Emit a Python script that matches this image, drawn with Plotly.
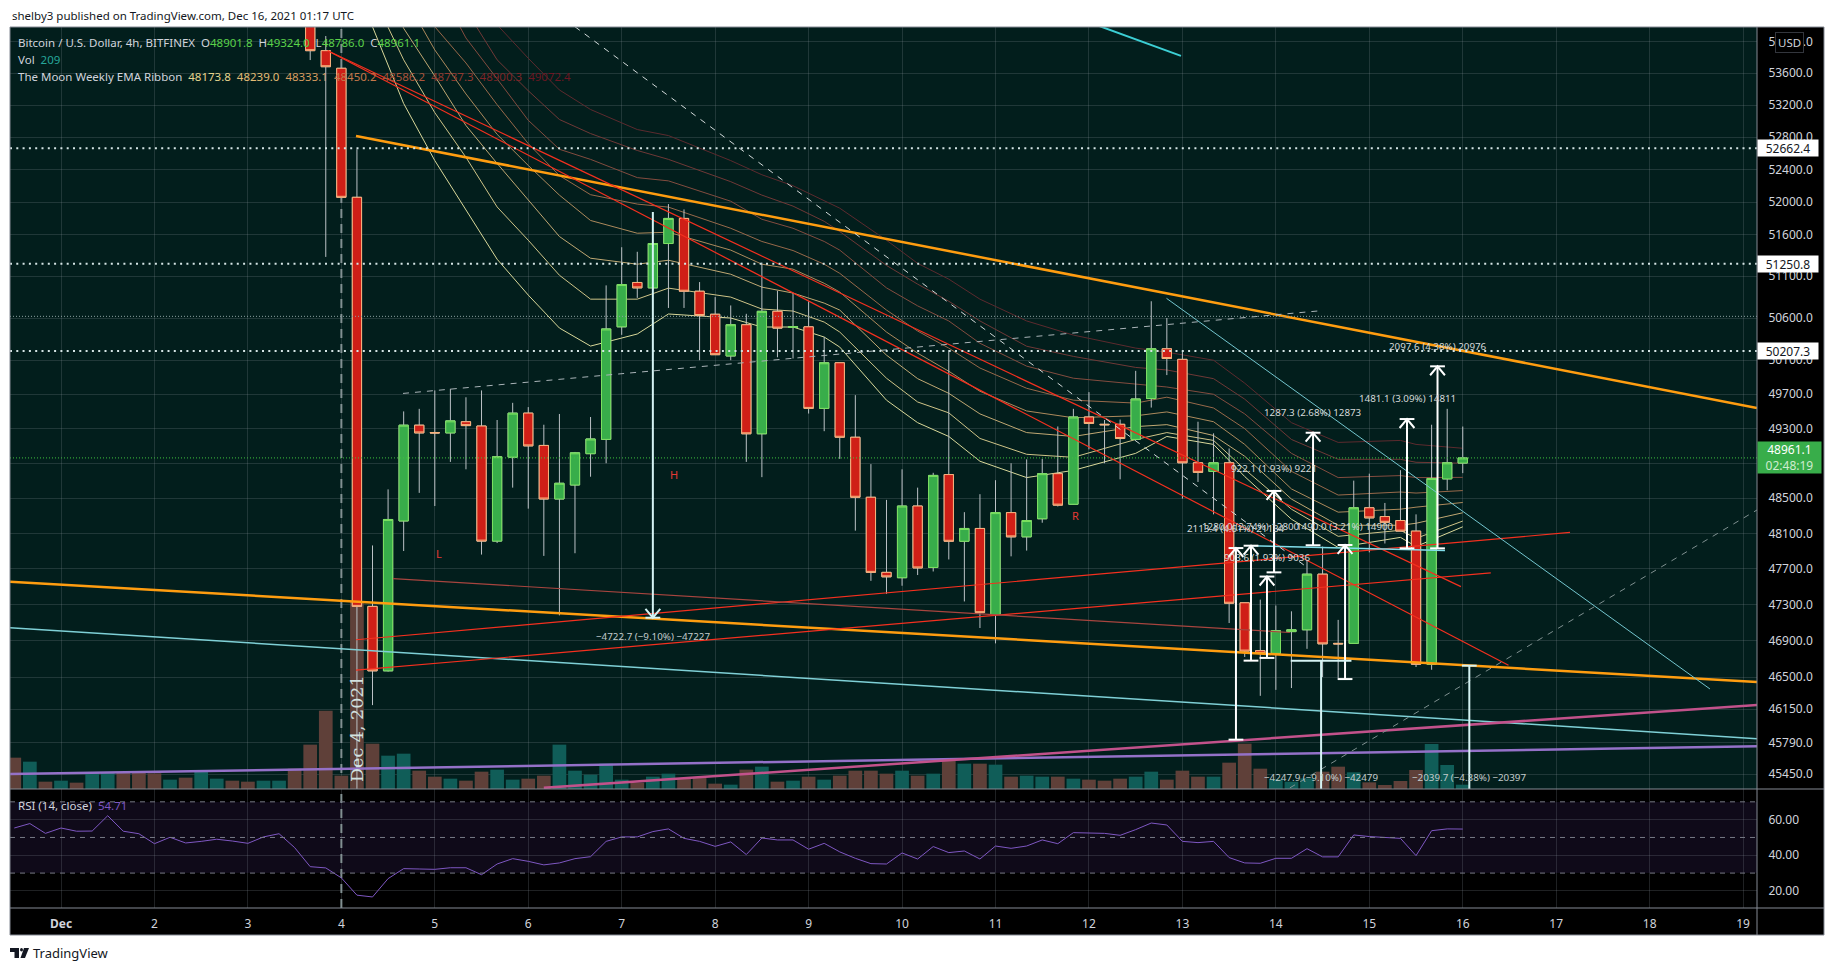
import numpy as np
import pandas as pd
import plotly.graph_objects as go

#######################
### Chart Variables ###
#######################

WIDTH = 1834
HEIGHT = 971
LEFT, RIGHT, TOP, BOTTOM = 10, 1757, 27, 908
PANE_SPLIT = 789
FONT = "Noto Sans"
TEXT_COLOUR = "#d1d4dc"
MAIN_BG = "#021e1c"
GRID_COLOUR = "rgba(140,150,160,0.22)"
BORDER_COLOUR = "#858a94"
RED_FILL, RED_EDGE = "#cf1f17", "#f9b27c"
GREEN_FILL, GREEN_EDGE = "#38ad4a", "#7be05f"
WICK_COLOUR = "#bcc2c6"
VOL_UP, VOL_DOWN = "#105d58", "#5f4039"
MEASURE_WHITE, MEASURE_PALE = "#ffffff", "#d5f3f3"
GAP = "\u00a0\u00a0"

PRICE_RANGE = [np.log10(45291), np.log10(54187)]
X_RANGE = ["2021-11-30 10:54", "2021-12-19 03:34"]

############
### Data ###
############

price_ticks = [54000, 53600, 53200, 52800, 52400, 52000, 51600, 51100, 50600, 50100, 49700,
               49300, 48900, 48500, 48100, 47700, 47300, 46900, 46500, 46150, 45790, 45450]
rsi_ticks = [60, 40, 20]
day_ticks = ["2021-12-%02d" % d for d in range(1, 20)]
day_labels = ["<b>Dec</b>"] + [str(d) for d in range(2, 20)]

candle_times = pd.date_range("2021-12-03 16:00", periods=75, freq="4h")
opens = [54900, 53886, 53663, 52058, 47280, 46568, 48240, 49340, 49255, 49250, 49380, 49330, 48012, 48970, 49480,
         49105, 48490, 48650, 49010, 49175, 50495, 51025, 50960, 51495, 51800, 50920, 50645, 50150, 50520, 49240,
         50680, 50490, 50495, 49535, 50070, 49200, 48510, 47660, 47600, 48410, 47715, 48770, 48010, 48155, 47190,
         48335, 48060, 48265, 48780, 48430, 49435, 49350, 49350, 49175, 49650, 50235, 50110, 48905, 48805, 48905,
         47320, 46790, 46760, 47000, 47020, 47640, 46870, 46870, 48390, 48290, 48245, 48125, 46640, 48720, 48901.8]
highs = [55100, 54072, 53663, 52650, 47963, 48600, 49500, 49530, 49745, 49765, 49665, 49745, 49400, 49600, 49550,
         49345, 49470, 49030, 49435, 50990, 51450, 51395, 51500, 51975, 51910, 51030, 50850, 50750, 50650, 51265,
         50925, 50900, 50800, 50375, 50070, 49690, 48890, 48480, 48830, 48620, 48790, 50220, 48340, 48545, 48705,
         48900, 48945, 48950, 49325, 49530, 49725, 49400, 49405, 49975, 50800, 50600, 50210, 49380, 49245, 49070,
         47320, 47355, 47290, 47225, 47790, 47950, 47130, 48700, 48780, 48445, 48820, 48315, 49345, 49530, 49324]
lows = [53767, 51333, 52058, 42300, 46194, 46560, 47900, 48560, 48410, 48915, 48830, 47860, 47990, 48620, 48380,
        47845, 47180, 47875, 48745, 48900, 50400, 50840, 50940, 50720, 50720, 50100, 50165, 50100, 48915, 48740,
        50135, 50120, 49475, 49270, 48950, 48130, 47565, 47420, 47510, 47630, 47670, 47805, 47335, 47040, 46870,
        47840, 47905, 48220, 48405, 48425, 49060, 48900, 48715, 49170, 49545, 49925, 48495, 48685, 48315, 47095,
        46720, 46295, 46360, 46380, 46810, 46500, 46490, 46865, 47885, 47985, 48125, 46610, 46580, 48590, 48786]
closes = [53886, 53683, 52058, 47280, 46568, 48257, 49340, 49250, 49250, 49390, 49335, 48012, 48975, 49480, 49100,
          48490, 48670, 49020, 49180, 50470, 51000, 50960, 51495, 51800, 50920, 50630, 50165, 50520, 49240, 50680,
          50480, 50495, 49535, 50070, 49200, 48510, 47660, 47610, 48410, 47710, 48760, 48010, 48155, 47210, 48335,
          48060, 48245, 48780, 48420, 49435, 49360, 49345, 49185, 49645, 50235, 50120, 48905, 48795, 48905, 47315,
          46785, 46760, 47010, 47020, 47640, 46865, 46865, 48390, 48275, 48225, 48125, 46640, 48725, 48905, 48961.1]

bar_times = pd.date_range("2021-11-30 12:00", periods=94, freq="4h")
volumes = [1523, 1328, 356, 405, 308, 794, 794, 794, 810, 761, 454, 551, 891, 502, 405, 356, 405, 405, 988, 2155,
           3807, 648, 9088, 2203, 1620, 1717, 891, 599, 502, 405, 842, 940, 454, 502, 648, 2155, 891, 697, 1231, 454,
           308, 599, 745, 502, 551, 259, 211, 940, 1085, 356, 405, 599, 454, 648, 891, 891, 745, 891, 648, 745,
           1426, 1231, 1231, 1183, 599, 648, 599, 599, 502, 454, 405, 502, 599, 842, 454, 891, 599, 599, 1280, 2203,
           988, 470, 356, 518, 842, 1085, 810, 324, 194, 389, 923, 2187, 1166, 209]
volume_up = [0, 1, 0, 1, 0, 1, 1, 0, 0, 0, 1, 0, 1, 1, 0, 0, 1, 1, 0, 0,
             0, 0, 0, 0, 1, 1, 0, 0, 1, 0, 0, 1, 1, 0, 0, 1, 1, 1, 1, 1,
             0, 1, 1, 0, 0, 0, 1, 0, 1, 0, 1, 0, 1, 0, 0, 0, 0, 1, 0, 1,
             0, 1, 0, 1, 0, 1, 1, 0, 1, 0, 0, 0, 1, 1, 0, 0, 0, 1, 0, 0,
             0, 1, 1, 1, 0, 0, 1, 0, 0, 0, 0, 1, 1, 1]
rsi_values = [55.3, 57.8, 52.3, 55.3, 53.5, 53.6, 62.2, 53.5, 52.1, 46.5, 50.1, 46.9, 47.8, 49, 48, 46.7, 50.3, 52.1,
              44.3, 33.6, 32.9, 27.3, 17.6, 16.6, 26.9, 32.5, 32.3, 32.1, 33, 33, 29.1, 35.1, 38.1, 36.6, 34.6, 35.7,
              38.1, 39.2, 47.8, 50.3, 50.3, 53.3, 54.8, 49.5, 47.8, 45, 47.5, 40.4, 49.7, 48.6, 48.6, 43.4, 46.7, 41.9,
              38.3, 35.3, 35.1, 41.3, 37.9, 44.9, 41.5, 42.4, 37.9, 45.2, 43.9, 45.2, 48.6, 46.5, 52.7, 52.5, 52.3,
              51.2, 54.4, 58.1, 57, 47.8, 47.1, 47.8, 38.7, 35.7, 35.5, 38.3, 38.3, 43.7, 39.1, 39.1, 51.4, 50.5, 50.1,
              49.5, 39.8, 53.8, 54.8, 54.71]

ribbon_times = ["2021-12-04 08:00", "2021-12-04 16:00", "2021-12-05 00:00", "2021-12-05 08:00", "2021-12-05 16:00",
                "2021-12-06 00:00", "2021-12-06 08:00", "2021-12-06 16:00", "2021-12-07 04:00", "2021-12-07 12:00",
                "2021-12-08 04:00", "2021-12-08 12:00", "2021-12-08 20:00", "2021-12-09 04:00", "2021-12-09 08:00",
                "2021-12-09 20:00", "2021-12-10 04:00", "2021-12-10 12:00", "2021-12-10 20:00", "2021-12-11 08:00",
                "2021-12-11 20:00", "2021-12-12 12:00", "2021-12-12 20:00", "2021-12-13 08:00", "2021-12-13 16:00",
                "2021-12-14 04:00", "2021-12-14 16:00", "2021-12-15 08:00", "2021-12-15 12:00", "2021-12-16 00:00"]
ema_1 = [54190, 53220, 52510, 51902, 51305, 50874, 50481, 50267, 50410, 50648, 50600, 50493, 50493, 50374, 50255,
         49631, 49369, 49209, 48923, 48735, 48818, 49014, 49209, 49117, 48747, 48260, 47940, 48054, 47951, 48173.8]
ema_2 = [54600, 53770, 53105, 52550, 51940, 51535, 51112, 50825, 50825, 50957, 50850, 50707, 50683, 50552, 50433,
         49888, 49610, 49483, 49186, 49003, 48968, 49174, 49254, 49163, 48830, 48374, 48066, 48134, 48043, 48239.0]
ema_3 = [55044, 54170, 53565, 52945, 52475, 52025, 51580, 51317, 51245, 51293, 51124, 50969, 50898, 50778, 50695,
         50160, 49883, 49711, 49471, 49254, 49209, 49323, 49346, 49220, 48980, 48489, 48191, 48191, 48214, 48333.1]
ema_4 = [55500, 54593, 53895, 53340, 52835, 52450, 52085, 51775, 51620, 51632, 51415, 51245, 51185, 51015, 50910,
         50433, 50183, 49970, 49735, 49505, 49426, 49449, 49494, 49380, 49117, 48605, 48340, 48374, 48397, 48450.2]
ema_5 = [55958, 54915, 54190, 53730, 53205, 52720, 52325, 52090, 51975, 51938, 51680, 51520, 51410, 51245, 51135,
         50695, 50445, 50243, 50008, 49770, 49631, 49597, 49666, 49540, 49300, 48807, 48535, 48570, 48558, 48586.2]
ema_6 = [56488, 55500, 54786, 54047, 53530, 53010, 52650, 52525, 52300, 52260, 52010, 51790, 51680, 51520, 51415,
         50960, 50745, 50565, 50300, 50030, 49888, 49820, 49785, 49700, 49471, 49014, 48735, 48758, 48735, 48737.3]
ema_7 = [57020, 56025, 55304, 54404, 53770, 53380, 53020, 52845, 52635, 52525, 52250, 52085, 51950, 51765, 51640,
         51230, 51005, 50800, 50565, 50265, 50145, 50015, 49985, 49883, 49643, 49174, 48945, 48945, 48911, 48900.3]
ema_8 = [57560, 56620, 55960, 55175, 54215, 53790, 53390, 53145, 52895, 52820, 52510, 52335, 52200, 52015, 51925,
         51535, 51255, 51065, 50825, 50565, 50397, 50243, 50195, 50100, 49830, 49369, 49140, 49163, 49117, 49072.4]
ribbon_values = [ema_1, ema_2, ema_3, ema_4, ema_5, ema_6, ema_7, ema_8]
ribbon_colours = ["#d9d89a", "#cfc488", "#c0a873", "#ad8a5c", "#98694a", "#834c3f", "#6f3836", "#5c2a2e"]
ribbon_legend = ["#e6d58e", "#e3bc75", "#d79c5f", "#c4784a", "#ab543a", "#93392f", "#7d2427", "#6b1622"]

# drawn lines: start and end of each one
trend_t0 = ["2021-12-04 03:46", X_RANGE[0], X_RANGE[0], "2021-12-12 02:04", X_RANGE[0], "2021-12-06 04:00",
            "2021-12-03 20:30", "2021-12-03 20:30", "2021-12-04 03:46", "2021-12-04 03:46", "2021-12-04 13:16",
            "2021-12-12 19:55", "2021-12-13 17:16"]
trend_p0 = [52815, 47556, 47044, 54210, 45450, 45303, 53885, 53885, 46575, 46910, 47590, 50835, 47960]
trend_t1 = [X_RANGE[1], X_RANGE[1], X_RANGE[1], "2021-12-12 23:38", X_RANGE[1], X_RANGE[1], "2021-12-15 23:32",
            "2021-12-16 11:45", "2021-12-16 07:12", "2021-12-17 03:33", "2021-12-14 03:36", "2021-12-18 15:29",
            "2021-12-15 19:26"]
trend_p1 = [49540, 46445, 45831, 53820, 45748, 46194, 47500, 46630, 47655, 48110, 46990, 46370, 47905]
trend_colours = ["#ff9d10", "#ff9d10", "#7fd0d6", "#3ccfd4", "#9471c8", "#c2528b", "#f4301f", "#f4301f", "#f4301f",
                 "#f4301f", "#a8453f", "#74c6cf", "#80deea"]
trend_widths = [2.5, 2.5, 1.5, 2, 2.5, 2.5, 1.2, 1.2, 1.2, 1.2, 1.2, 1, 1.5]

dashed_t0 = ["2021-12-04 15:50", "2021-12-06 12:00", "2021-12-14 03:36"]
dashed_p0 = [49710, 54190, 45303]
dashed_t1 = ["2021-12-14 11:03", "2021-12-14 07:26", X_RANGE[1]]
dashed_p1 = [50685, 47735, 48365]
dashed_colours = ["#aab4b8", "#d3dada", "#7f9090"]

level_prices = [52662.4, 51250.8, 50207.3]
thin_level = 50620
last_price = 48961.1

# price range tools: time, from, to, label, label price
up_times = ["2021-12-13 13:45", "2021-12-13 17:37", "2021-12-13 21:43", "2021-12-13 23:31", "2021-12-14 09:33",
            "2021-12-14 17:46", "2021-12-15 09:41", "2021-12-15 17:31"]
up_from = [45820, 46680, 46710, 47660, 47965, 46478, 47930, 47930]
up_to = [47933.4, 47960, 47613, 48582, 49252, 47968, 49411, 50028]
up_labels = ["2113.4 (4.61%) 21134", "1280.0 (2.74%) 12800", "903.6 (1.93%) 9036", "922.1 (1.93%) 9221",
             "1287.3 (2.68%) 12873", "1490.0 (3.21%) 14900", "1481.1 (3.09%) 14811", "2097.6 (4.38%) 20976"]
up_label_prices = [48155, 48180, 47826, 48843, 49485, 48180, 49655, 50265]

down_times = ["2021-12-07 08:00", "2021-12-14 11:37", "2021-12-16 01:41"]
down_from = [51877, 46680, 46625]
down_to = [47154, 42432, 44585]
down_labels = ["\u22124722.7 (\u22129.10%) \u221247227", "\u22124247.9 (\u22129.10%) \u221242479",
               "\u22122039.7 (\u22124.38%) \u221220397"]
down_label_prices = [46945, 45410, 45410]
down_base_hours = [0, 7.8, 1.9]

mark_texts = ["H", "L", "R"]
mark_times = ["2021-12-07 13:27", "2021-12-05 01:05", "2021-12-11 20:40"]
mark_prices = [48770, 47870, 48305]


###############
### Helpers ###
###############

def paper_x(px):
    return (px - LEFT) / (RIGHT - LEFT)


def paper_y(py):
    return (BOTTOM - py) / (BOTTOM - TOP)


def rect(x0, y0, x1, y1, fill, line=None):
    return dict(type="rect", xref="paper", yref="paper", layer="below",
                x0=paper_x(x0), x1=paper_x(x1), y0=paper_y(y0), y1=paper_y(y1),
                fillcolor=fill, line=dict(color=line or fill, width=1 if line else 0))


def rule(x0, y0, x1, y1):
    return dict(type="line", xref="paper", yref="paper", layer="above",
                x0=paper_x(x0), x1=paper_x(x1), y0=paper_y(y0), y1=paper_y(y1),
                line=dict(color=BORDER_COLOUR, width=1))


def page_text(px, py, text, size=11.5, colour=TEXT_COLOUR, **kwargs):
    return dict(xref="paper", yref="paper", x=paper_x(px), y=paper_y(py), text=text, showarrow=False,
                xanchor=kwargs.pop("xanchor", "left"), yanchor="middle",
                font=dict(family=kwargs.pop("family", FONT), size=size, color=colour), **kwargs)


def price_text(time, price, text, size=9.8, colour="#c3cccc"):
    return dict(xref="x", yref="y", x=time, y=np.log10(price), text=text, showarrow=False,
                font=dict(family=FONT, size=size, color=colour))


def side_label(price, text, fill, colour, height=16, width=60):
    return dict(xref="paper", yref="y", x=1, y=np.log10(price), text=text, showarrow=False, xanchor="left",
                yanchor="middle", bgcolor=fill, width=width, height=height, align="center", borderpad=0,
                font=dict(family=FONT, size=12, color=colour))


def range_tool(time, start, end, base_hours=1.9):
    """Segments of one price range: shaft, end cap, chevron and base bar."""
    t = pd.Timestamp(time)
    head = pd.Timedelta(hours=1.9)
    base = pd.Timedelta(hours=base_hours)
    direction = 1 if end > start else -1
    back = end * (1 - direction * 0.0021)
    xs = [t, t, None, t - head, t + head, None, t - head, t, t + head, None, t - base, t + base, None]
    ys = [start, end, None, end, end, None, back, end, back, None, start, start, None]
    return xs, ys


##################
### Main chart ###
##################

fig = go.Figure()

# EMA ribbon sits underneath the candles
for values, colour in zip(ribbon_values, ribbon_colours):
    fig.add_trace(go.Scatter(x=ribbon_times, y=values, mode="lines", xaxis="x", yaxis="y",
                             line=dict(color=colour, width=1), hoverinfo="skip"))

fig.add_trace(go.Bar(x=bar_times, y=volumes, xaxis="x", yaxis="y2",
                     marker=dict(color=[VOL_UP if up else VOL_DOWN for up in volume_up], line=dict(width=0)),
                     hoverinfo="skip"))

# wicks on their own axis, otherwise the two candle traces get grouped side by side
fig.add_trace(go.Candlestick(x=candle_times, open=opens, high=highs, low=lows, close=closes, xaxis="x", yaxis="y3",
                             increasing=dict(line=dict(color=WICK_COLOUR, width=1), fillcolor=WICK_COLOUR),
                             decreasing=dict(line=dict(color=WICK_COLOUR, width=1), fillcolor=WICK_COLOUR),
                             hoverinfo="skip"))
fig.add_trace(go.Candlestick(x=candle_times, open=opens, close=closes,
                             high=[max(o, c) for o, c in zip(opens, closes)],
                             low=[min(o, c) for o, c in zip(opens, closes)], xaxis="x", yaxis="y4",
                             increasing=dict(line=dict(color=GREEN_EDGE, width=1), fillcolor=GREEN_FILL),
                             decreasing=dict(line=dict(color=RED_EDGE, width=1), fillcolor=RED_FILL),
                             hoverinfo="skip"))

# drawings on top
for t0, p0, t1, p1, colour, width in zip(trend_t0, trend_p0, trend_t1, trend_p1, trend_colours, trend_widths):
    fig.add_trace(go.Scatter(x=[t0, t1], y=[p0, p1], mode="lines", xaxis="x", yaxis="y5",
                             line=dict(color=colour, width=width), hoverinfo="skip"))

for t0, p0, t1, p1, colour in zip(dashed_t0, dashed_p0, dashed_t1, dashed_p1, dashed_colours):
    fig.add_trace(go.Scatter(x=[t0, t1], y=[p0, p1], mode="lines", xaxis="x", yaxis="y5",
                             line=dict(color=colour, width=1, dash="6px,6px"), hoverinfo="skip"))

for level in level_prices:
    fig.add_trace(go.Scatter(x=X_RANGE, y=[level, level], mode="lines", xaxis="x", yaxis="y5",
                             line=dict(color="#d5e5e5", width=2, dash="2px,4.3px"), hoverinfo="skip"))
fig.add_trace(go.Scatter(x=X_RANGE, y=[thin_level, thin_level], mode="lines", xaxis="x", yaxis="y5",
                         line=dict(color="#8ea3a3", width=1, dash="1px,2px"), hoverinfo="skip"))
fig.add_trace(go.Scatter(x=X_RANGE, y=[last_price, last_price], mode="lines", xaxis="x", yaxis="y5",
                         line=dict(color="#3fc23f", width=1, dash="1px,2px"), hoverinfo="skip"))

for time, start, end in zip(up_times, up_from, up_to):
    xs, ys = range_tool(time, start, end)
    fig.add_trace(go.Scatter(x=xs, y=ys, mode="lines", xaxis="x", yaxis="y5",
                             line=dict(color=MEASURE_WHITE, width=2), hoverinfo="skip"))
for time, start, end, hours in zip(down_times, down_from, down_to, down_base_hours):
    xs, ys = range_tool(time, start, end, hours)
    fig.add_trace(go.Scatter(x=xs, y=ys, mode="lines", xaxis="x", yaxis="y5",
                             line=dict(color=MEASURE_PALE, width=2), hoverinfo="skip"))

#################
### RSI pane ####
#################

fig.add_trace(go.Scatter(x=bar_times, y=rsi_values, mode="lines", xaxis="x", yaxis="y6",
                         line=dict(color="#7e57c2", width=1), hoverinfo="skip"))
for band in [70, 50, 30]:
    fig.add_trace(go.Scatter(x=X_RANGE, y=[band, band], mode="lines", xaxis="x", yaxis="y6",
                             line=dict(color="#787b86", width=1, dash="5px,5px"), hoverinfo="skip"))

##############
### Layout ###
##############

split = paper_y(PANE_SPLIT)
overlay = dict(type="log", range=PRICE_RANGE, overlaying="y", anchor="x", visible=False, fixedrange=True)

shapes = [
    rect(LEFT, TOP, RIGHT, PANE_SPLIT, MAIN_BG),
    rect(LEFT, PANE_SPLIT, RIGHT, BOTTOM, "#000000"),
    rect(LEFT, 802, RIGHT, 873, "#0f0a19"),
    rect(RIGHT, TOP, 1824, 935, "#000000"),
    rect(LEFT, BOTTOM, RIGHT, 935, "#000000"),
    dict(type="line", xref="x", yref="paper", x0="2021-12-04", x1="2021-12-04", y0=0, y1=1, layer="below",
         line=dict(color="#7f8f8f", width=2, dash="9px,6px")),
    rule(LEFT, TOP, 1824, TOP), rule(LEFT, 935, 1824, 935), rule(LEFT, TOP, LEFT, 935), rule(1824, TOP, 1824, 935),
    rule(LEFT, PANE_SPLIT, 1824, PANE_SPLIT), rule(LEFT, BOTTOM, 1824, BOTTOM), rule(RIGHT, TOP, RIGHT, 935),
    # TradingView logo
    dict(type="path", xref="paper", yref="paper", fillcolor="#131722", line=dict(width=0),
         path="M %f %f L %f %f L %f %f L %f %f L %f %f L %f %f Z" % (
             paper_x(10), paper_y(948), paper_x(19), paper_y(948), paper_x(19), paper_y(958),
             paper_x(14.5), paper_y(958), paper_x(14.5), paper_y(952), paper_x(10), paper_y(952))),
    dict(type="path", xref="paper", yref="paper", fillcolor="#131722", line=dict(width=0),
         path="M %f %f L %f %f L %f %f L %f %f Z" % (
             paper_x(24), paper_y(948), paper_x(29), paper_y(948), paper_x(25), paper_y(958), paper_x(20.5), paper_y(958))),
    dict(type="circle", xref="paper", yref="paper", fillcolor="#131722", line=dict(width=0),
         x0=paper_x(20), x1=paper_x(23), y0=paper_y(951.5), y1=paper_y(948)),
]

legend_row = ("Bitcoin / U.S. Dollar, 4h, BITFINEX" + GAP + "O<span style='color:#5bd24a'>48901.8</span>" + GAP +
              "H<span style='color:#5bd24a'>49324.0</span>" + GAP + "L<span style='color:#5bd24a'>48786.0</span>" + GAP +
              "C<span style='color:#5bd24a'>48961.1</span>")
ribbon_row = "The Moon Weekly EMA Ribbon" + GAP + GAP.join(
    "<span style='color:%s'>%s</span>" % (colour, format(values[-1], ".1f"))
    for values, colour in zip(ribbon_values, ribbon_legend))

annotations = [
    page_text(10, 15.5, "shelby3 published on TradingView.com, Dec 16, 2021 01:17 UTC", colour="#131722"),
    page_text(16, 42.5, legend_row),
    page_text(16, 59.5, "Vol" + GAP + "<span style='color:#26a69a'>209</span>"),
    page_text(16, 76.5, ribbon_row),
    page_text(16, 805.5, "RSI (14, close)" + GAP + "<span style='color:#7e57c2'>54.71</span>"),
    page_text(31, 953, "TradingView", size=13, colour="#131722"),
    page_text(357, 729, "Dec 4, 2021", size=17.5, colour="#d3e2e0", family="DejaVu Serif", xanchor="center",
              textangle=-90),
    page_text(1790, 42.5, "USD", xanchor="center", bgcolor="#000000", bordercolor="#33363d", borderwidth=1, borderpad=2),
    side_label(52662.4, "52662.4", "#ffffff", "#131722"),
    side_label(51250.8, "51250.8", "#ffffff", "#131722"),
    side_label(50207.3, "50207.3", "#ffffff", "#131722"),
    side_label(48961.1, "48961.1<br><span style='color:#cfeccf'>02:48:19</span>", GREEN_FILL, "#ffffff", height=31,
               width=63),
]
for time, price, text in zip(up_times, up_label_prices, up_labels):
    annotations.append(price_text(time, price, text, colour="#d5dada"))
for time, price, text in zip(down_times, down_label_prices, down_labels):
    annotations.append(price_text(time, price, text))
for time, price, text in zip(mark_times, mark_prices, mark_texts):
    annotations.append(price_text(time, price, text, size=11, colour="#e53935"))

fig.update_layout(
    width=WIDTH, height=HEIGHT, autosize=False, showlegend=False, bargap=0.12, boxgap=0.15,
    margin=dict(l=LEFT, r=WIDTH - RIGHT, t=TOP, b=HEIGHT - BOTTOM, autoexpand=False),
    paper_bgcolor="white", plot_bgcolor="rgba(0,0,0,0)",
    font=dict(family=FONT, size=12, color=TEXT_COLOUR),
    xaxis=dict(type="date", range=X_RANGE, anchor="y6", domain=[0, 1], rangeslider=dict(visible=False),
               tickmode="array", tickvals=day_ticks, ticktext=day_labels, ticks="outside", ticklen=5,
               tickcolor="rgba(0,0,0,0)", showgrid=True, gridcolor=GRID_COLOUR, gridwidth=1, zeroline=False,
               showline=False, tickfont=dict(family=FONT, size=12, color=TEXT_COLOUR), fixedrange=True),
    yaxis=dict(type="log", range=PRICE_RANGE, domain=[split, 1], anchor="x", side="right", tickmode="array",
               tickvals=price_ticks, ticktext=["%.1f" % p for p in price_ticks], ticks="outside", ticklen=8,
               tickcolor="rgba(0,0,0,0)", showgrid=True, gridcolor=GRID_COLOUR, gridwidth=1, zeroline=False,
               showline=False, tickfont=dict(family=FONT, size=12, color=TEXT_COLOUR), fixedrange=True),
    yaxis2=dict(range=[0, 37030], overlaying="y", anchor="x", visible=False, fixedrange=True),
    yaxis3=overlay,
    yaxis4=overlay,
    yaxis5=overlay,
    yaxis6=dict(range=[10.4, 77.2], domain=[0, split], anchor="x", side="right", tickmode="array",
                tickvals=rsi_ticks, ticktext=["%.2f" % v for v in rsi_ticks], ticks="outside", ticklen=8,
                tickcolor="rgba(0,0,0,0)", showgrid=True, gridcolor=GRID_COLOUR, gridwidth=1, zeroline=False,
                showline=False, tickfont=dict(family=FONT, size=12, color=TEXT_COLOUR), fixedrange=True),
    shapes=shapes,
    annotations=annotations,
)

# the page's default 8px body margin would push the chart off its place
fig.write_html("out.html", config=dict(displayModeBar=False), post_script="document.body.style.margin = '0';")
